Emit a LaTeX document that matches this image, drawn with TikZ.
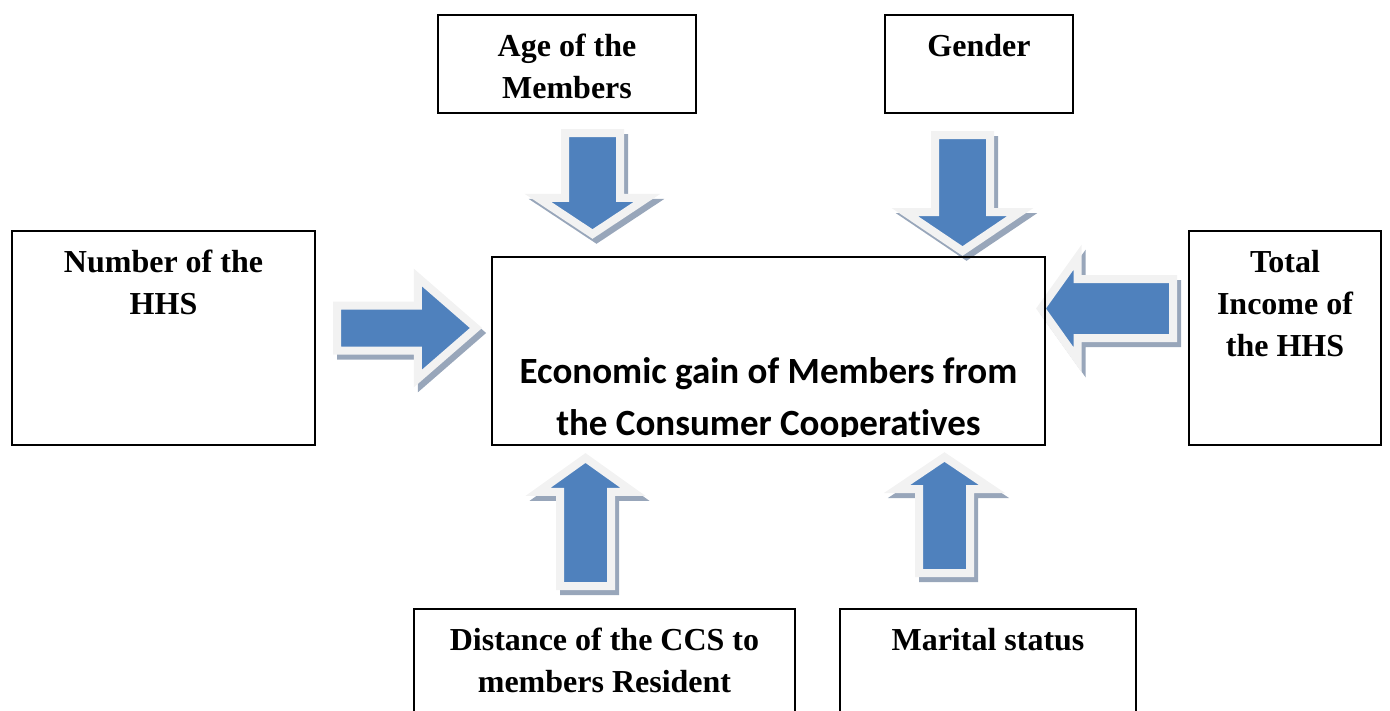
\documentclass[tikz,border=0pt]{standalone}
\usepackage{fontspec}
\setmainfont{Liberation Serif}
\newfontfamily\gainfont[Ligatures=NoCommon]{Carlito}
\usetikzlibrary{positioning,shapes.arrows}
\definecolor{arrblue}{HTML}{4F81BD}
\definecolor{arrline}{HTML}{F2F2F2}
\definecolor{arrshade}{HTML}{98A6BA}
\tikzset{
  box/.style={draw=black,line width=2pt,rectangle,inner sep=0pt},
  lbl/.style={align=center,inner sep=0pt,font=\bfseries\fontsize{32}{42}\selectfont},
  gainlbl/.style={align=center,inner sep=0pt,font=\gainfont\bfseries\fontsize{37}{52}\selectfont},
  blockarrow/.style={single arrow,rotate=#1,anchor=tail,inner sep=0pt,
    preaction={draw=arrshade,fill=arrshade,line width=8pt,
      transform canvas={shift={(4pt,-5pt)}}},
    draw=arrline,fill=arrblue,line width=8pt}
}
\begin{document}
\begin{tikzpicture}[x=1pt,y=-1pt]
 \useasboundingbox (0,0) rectangle (1390,710);
 \clip (0,0) rectangle (1390,710);
 % block arrows
 \node[blockarrow=0,minimum height=139pt,inner ysep=18.5pt,single arrow head extend=28pt,single arrow tip angle=82] (numArr) at (333,328) {};
 \node[blockarrow=-90,minimum height=101pt,inner ysep=23.5pt,single arrow head extend=27pt,single arrow tip angle=113] (ageArr) at (592.5,129) {};
 \node[blockarrow=-90,minimum height=116pt,inner ysep=23.5pt,single arrow head extend=30pt,single arrow tip angle=112] (genArr) at (962.5,131) {};
 \node[blockarrow=180,minimum height=132pt,inner ysep=25.5pt,single arrow head extend=22pt,single arrow tip angle=109] (totArr) at (1177,308.5) {};
 \node[blockarrow=90,minimum height=128pt,inner ysep=21.5pt,single arrow head extend=22pt,single arrow tip angle=109] (disArr) at (585.5,590) {};
 \node[blockarrow=90,minimum height=116pt,inner ysep=21.5pt,single arrow head extend=22pt,single arrow tip angle=112] (marArr) at (944.5,577) {};
 % boxes
 \node[box,minimum width=258pt,minimum height=98pt] (age) at (567,64) {};
 \node[box,minimum width=188pt,minimum height=98pt] (gender) at (979,64) {};
 \node[box,minimum width=303pt,minimum height=214pt] (number) at (163.5,338) {};
 \node[box,minimum width=553pt,minimum height=188pt] (gain) at (768.5,351) {};
 \node[box,minimum width=192pt,minimum height=214pt] (total) at (1285,338) {};
 \node[box,minimum width=381pt,minimum height=151pt] (distance) at (604.5,684.5) {};
 \node[box,minimum width=296pt,minimum height=151pt] (marital) at (988,684.5) {};
 % labels
 \node[lbl,below=20pt of age.north] {Age of the\\Members};
 \node[lbl,below=20pt of gender.north] {Gender};
 \node[lbl,below=20pt of number.north] {Number of the\\HHS};
 \node[lbl,below=20pt of total.north] {Total\\Income of\\the HHS};
 \node[lbl,below=20pt of distance.north] {Distance of the CCS to\\members Resident};
 \node[lbl,below=20pt of marital.north] {Marital status};
 \begin{scope}
  \clip (gain.north west) rectangle ([yshift=10pt]gain.south east);
  \node[gainlbl,above=4pt of gain.south] {Economic gain of Members from\\the Consumer Cooperatives};
 \end{scope}
\end{tikzpicture}
\end{document}
